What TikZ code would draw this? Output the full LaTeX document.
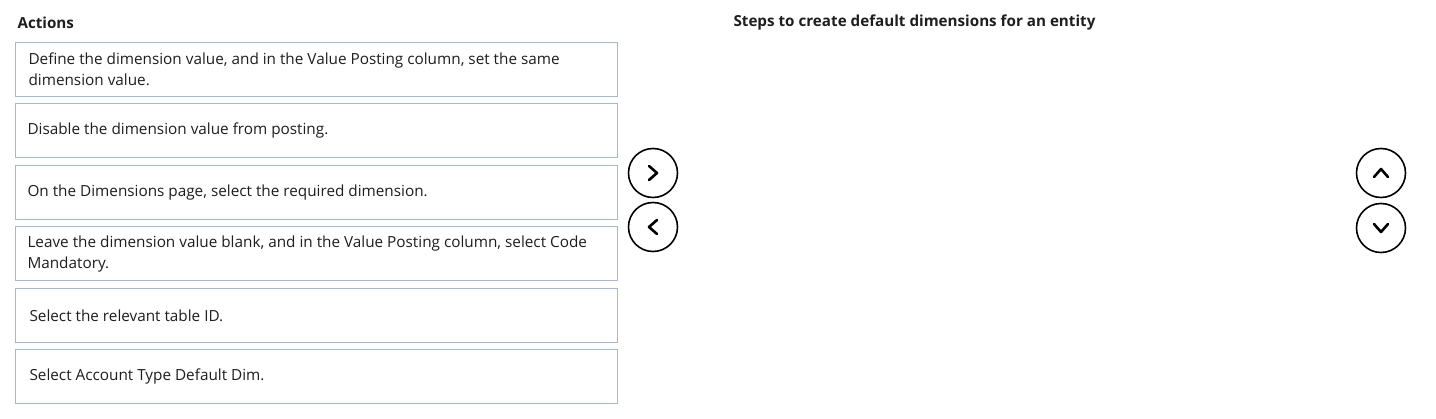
\documentclass[tikz,border=0pt]{standalone}
\usepackage{fontspec}
\setmainfont{Open Sans}
\definecolor{boxline}{RGB}{160,185,212}
\definecolor{txt}{RGB}{30,30,30}
\begin{document}
\begin{tikzpicture}[x=1pt,y=-1pt,
  actbox/.style={draw=boxline,line width=1.2pt,fill=white,minimum width=602pt,minimum height=54pt,anchor=north west,inner sep=0pt},
  acttext/.style={anchor=west,align=left,text=txt,font=\fontsize{15.3}{21}\selectfont},
  heading/.style={anchor=west,text=txt,font=\bfseries\fontsize{15.2}{18}\selectfont},
  btn/.style={draw=black,line width=1.6pt,circle,minimum size=49pt,inner sep=0pt},
  chev/.style={line width=2.6pt,line cap=round,line join=round}]
\useasboundingbox (0,0) rectangle (1436,419);
\node[heading] (acts) at (14,23) {Actions};
\node[heading] (steps) at (730,23) {Steps to create default dimensions for an entity};
\foreach \i/\y in {1/42,2/103,3/165,4/226,5/288,6/349}{
  \node[actbox] (b\i) at (15,\y) {};
}
\node[acttext] (t1) at ([xshift=10pt]b1.west) {Define the dimension value, and in the Value Posting column, set the same\\dimension value.};
\node[acttext] (t2) at ([xshift=9pt]b2.west) {Disable the dimension value from posting.};
\node[acttext] (t3) at ([xshift=9pt]b3.west) {On the Dimensions page, select the required dimension.};
\node[acttext] (t4) at ([xshift=9pt]b4.west) {Leave the dimension value blank, and in the Value Posting column, select Code\\Mandatory.};
\node[acttext] (t5) at ([xshift=11pt]b5.west) {Select the relevant table ID.};
\node[acttext] (t6) at ([xshift=11pt]b6.west) {Select Account Type Default Dim.};
\node[btn] (right) at (653,173) {};
\node[btn] (left) at (653,227) {};
\node[btn] (up) at (1381,173) {};
\node[btn] (down) at (1381,228) {};
\draw[chev] ([shift={(-4,-7)}]right.center) -- ([shift={(4,0)}]right.center) -- ([shift={(-4,7)}]right.center);
\draw[chev] ([shift={(4,-7)}]left.center) -- ([shift={(-4,0)}]left.center) -- ([shift={(4,7)}]left.center);
\draw[chev] ([shift={(-7,4)}]up.center) -- ([shift={(0,-4)}]up.center) -- ([shift={(7,4)}]up.center);
\draw[chev] ([shift={(-7,-4)}]down.center) -- ([shift={(0,4)}]down.center) -- ([shift={(7,-4)}]down.center);
\end{tikzpicture}
\end{document}
